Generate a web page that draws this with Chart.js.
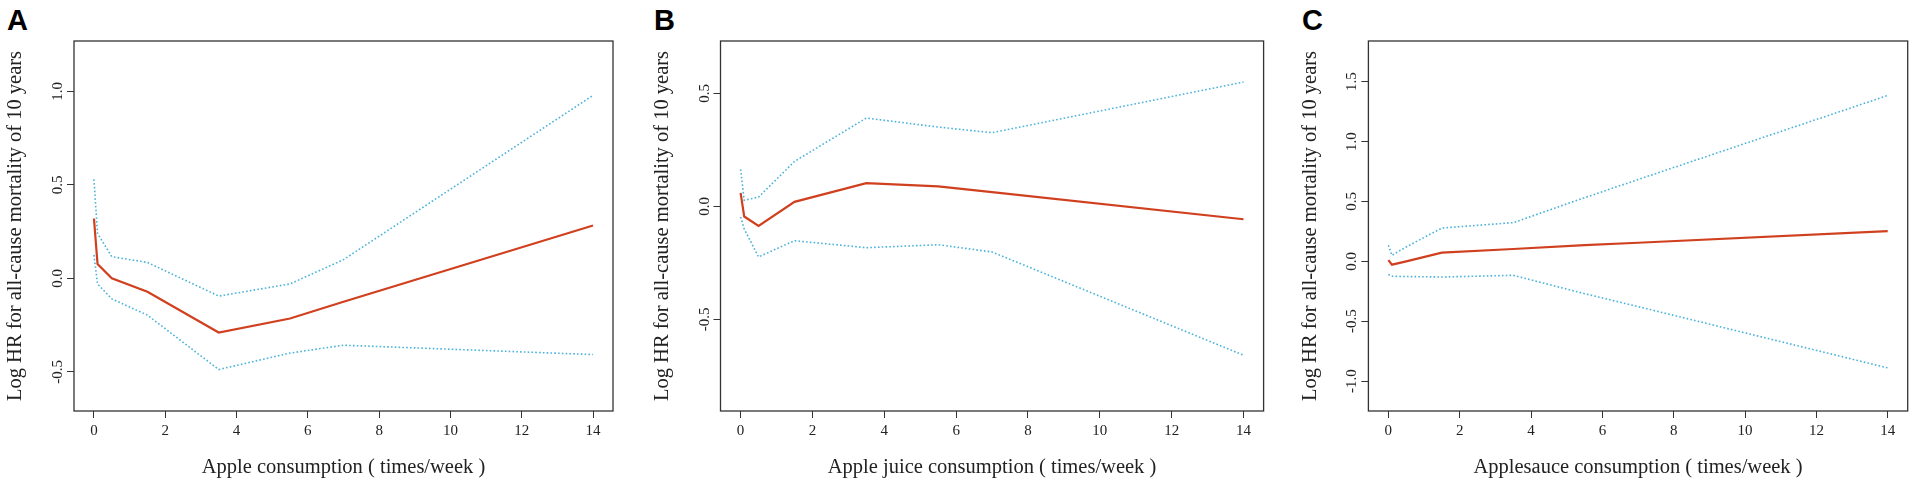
<!DOCTYPE html>
<html>

<head>
    <title>Apple intake and all-cause mortality</title>

    <script src="https://cdn.jsdelivr.net/npm/chart.js"></script>

    <style>
        body {
            margin: 0;
            background: #fff;
            width: 1914px;
            height: 484px;
            position: relative;
            overflow: hidden;
        }

        .panel {
            position: absolute;
            top: 0;
            width: 640px;
            height: 484px;
        }

        .tag {
            position: absolute;
            top: 6px;
            font: bold 29px "Liberation Sans", Arial, sans-serif;
            line-height: 29px;
            color: #000;
        }
    </style>
</head>

<body>
    <div class="tag" style="left:7px">A</div>
    <div class="tag" style="left:654px">B</div>
    <div class="tag" style="left:1302px">C</div>

    <div class="panel" style="left:0px"><canvas id="chartA" width="640" height="484"></canvas></div>
    <div class="panel" style="left:640px"><canvas id="chartB" width="640" height="484"></canvas></div>
    <div class="panel" style="left:1274px"><canvas id="chartC" width="640" height="484"></canvas></div>

    <script>
        // ------------- Data (times/week vs log HR) -------------
        const doses = [0, 0.1, 0.5, 1.5, 3.5, 5.5, 7, 14];

        const appleHR = [0.32, 0.077, 0.0, -0.072, -0.29, -0.215, -0.125, 0.283];
        const appleUpper = [0.53, 0.24, 0.116, 0.085, -0.095, -0.03, 0.1, 0.979];
        const appleLower = [0.125, -0.03, -0.11, -0.197, -0.488, -0.40, -0.358, -0.408];

        const juiceHR = [0.06, -0.045, -0.087, 0.02, 0.103, 0.088, 0.063, -0.057];
        const juiceUpper = [0.164, 0.027, 0.041, 0.199, 0.391, 0.351, 0.326, 0.55];
        const juiceLower = [-0.047, -0.10, -0.224, -0.152, -0.183, -0.17, -0.202, -0.659];

        const sauceHR = [0.01, -0.028, 0.0, 0.073, 0.103, 0.135, 0.155, 0.253];
        const sauceUpper = [0.134, 0.05, 0.12, 0.278, 0.323, 0.531, 0.683, 1.385];
        const sauceLower = [-0.11, -0.125, -0.127, -0.131, -0.117, -0.27, -0.378, -0.89];

        const xTicks = [0, 2, 4, 6, 8, 10, 12, 14];
        const yTitle = 'Log HR for all-cause mortality of 10 years';

        const RED = '#d0401f';
        const BLUE = '#4ab3da';
        const AXIS = '#333';
        const SERIF = '"Liberation Serif", "Times New Roman", serif';

        // box round the plot region, like R's bty="o"
        const boxPlugin = {
            id: 'box',
            afterDraw(chart) {
                const a = chart.chartArea;
                const c = chart.ctx;
                c.save();
                c.strokeStyle = AXIS;
                c.lineWidth = 1.3;
                c.strokeRect(a.left, a.top, a.right - a.left, a.bottom - a.top);
                c.restore();
            }
        };

        function pts(xs, ys) {
            return xs.map((x, i) => ({ x: x, y: ys[i] }));
        }

        function makeChart(id, hr, up, lo, xTitle, yMin, yMax, yAxisW, padRight, titlePad) {
            const ctx = document.getElementById(id).getContext('2d');
            return new Chart(ctx, {
                type: 'line',
                data: {
                    datasets: [
                        { data: pts(doses, up), borderColor: BLUE, borderWidth: 1.6, borderDash: [1.6, 2.2] },
                        { data: pts(doses, lo), borderColor: BLUE, borderWidth: 1.6, borderDash: [1.6, 2.2] },
                        { data: pts(doses, hr), borderColor: RED, borderWidth: 2.2 }
                    ]
                },
                options: {
                    responsive: false,
                    animation: false,
                    elements: { point: { radius: 0 }, line: { tension: 0 } },
                    layout: { padding: { left: 0, right: padRight, top: 41, bottom: 0 } },
                    plugins: { legend: { display: false }, tooltip: { enabled: false } },
                    scales: {
                        x: {
                            type: 'linear',
                            min: -0.56,
                            max: 14.56,
                            afterFit: s => { s.height = 73; },
                            afterBuildTicks: s => { s.ticks = xTicks.map(v => ({ value: v })); },
                            grid: { drawOnChartArea: false, drawTicks: true, tickLength: 7, tickColor: AXIS },
                            border: { display: false },
                            ticks: { color: '#222', font: { family: SERIF, size: 15 }, padding: 4, maxRotation: 0 },
                            title: {
                                display: true, text: xTitle, color: '#222',
                                font: { family: SERIF, size: 20.5 }, padding: { top: 0, bottom: 4 }
                            }
                        },
                        y: {
                            type: 'linear',
                            min: yMin,
                            max: yMax,
                            afterFit: s => { s.width = yAxisW; },
                            grid: { drawOnChartArea: false, drawTicks: true, tickLength: 7, tickColor: AXIS },
                            border: { display: false },
                            ticks: {
                                stepSize: 0.5,
                                includeBounds: false,
                                minRotation: 90,
                                maxRotation: 90,
                                crossAlign: 'center',
                                padding: -3,
                                color: '#222',
                                font: { family: SERIF, size: 15 },
                                callback: v => v.toFixed(1)
                            },
                            title: {
                                display: true, text: yTitle, color: '#222',
                                font: { family: SERIF, size: 20.5 }, padding: { top: titlePad, bottom: 0 }
                            }
                        }
                    }
                },
                plugins: [boxPlugin]
            });
        }

        makeChart('chartA', appleHR, appleUpper, appleLower, 'Apple consumption ( times/week )', -0.71, 1.27, 74, 27, 3);
        makeChart('chartB', juiceHR, juiceUpper, juiceLower, 'Apple juice consumption ( times/week )', -0.906, 0.732, 80.5, 16.4, 10);
        makeChart('chartC', sauceHR, sauceUpper, sauceLower, 'Applesauce consumption ( times/week )', -1.25, 1.84, 94.4, 6.3, 24);
    </script>
</body>

</html>
